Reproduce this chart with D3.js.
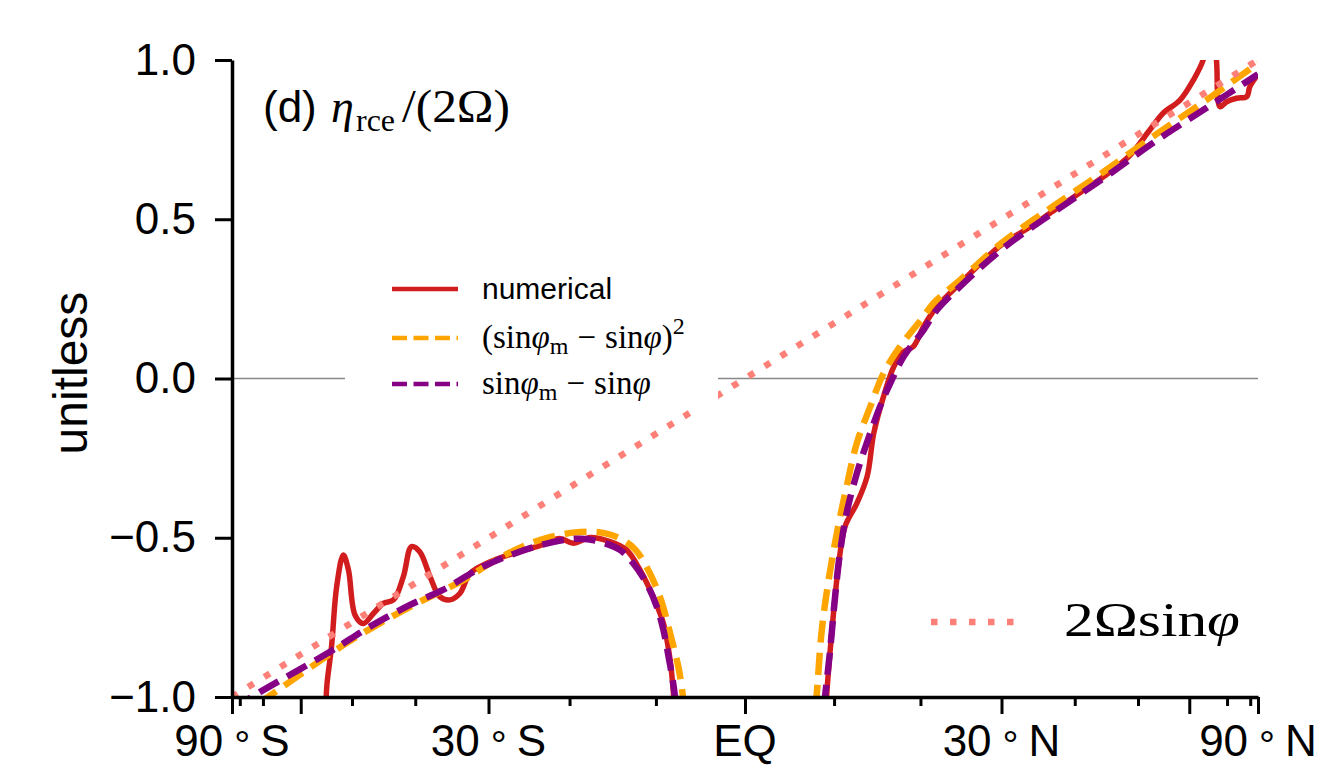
<!DOCTYPE html>
<html>
<head>
<meta charset="utf-8">
<script src="https://cdn.jsdelivr.net/npm/d3@7"></script>
<style>
  html, body { margin: 0; padding: 0; background: #fff; }
  svg { display: block; }
</style>
</head>
<body>
<svg id="chart" width="1320" height="767"></svg>
<script>
// ---------------- data (x = sin(latitude), y = unitless) ----------------
const yTicks = [-1.0, -0.5, 0.0, 0.5, 1.0];
const xMajorLat = [-90, -60, -30, 0, 30, 60, 90];
const xMinorLat = [-80, -70, -50, -40, -20, -10, 10, 20, 40, 50, 70, 80];
const xLabelLat = [-90, -30, 0, 30, 90];
const xLabelNum = ["90", "30", "EQ", "30", "90"];
const xLabelHemi = ["S", "S", "", "N", "N"];

const legendLabels = ["numerical", "(sinφm − sinφ)²", "sinφm − sinφ", "2Ωsinφ"];

const planetary = [[-1.0, -1.0], [1.0, 1.0]];

const numericalSouth = [[-0.817,-1.03],[-0.815,-0.962],[-0.806,-0.842],[-0.796,-0.654],[-0.783,-0.554],
  [-0.773,-0.601],[-0.760,-0.743],[-0.744,-0.769],[-0.724,-0.737],[-0.705,-0.706],[-0.685,-0.695],
  [-0.666,-0.622],[-0.650,-0.528],[-0.634,-0.544],[-0.614,-0.622],[-0.595,-0.685],[-0.575,-0.695],
  [-0.556,-0.675],[-0.536,-0.612],[-0.503,-0.580],[-0.450,-0.548],[-0.400,-0.525],[-0.361,-0.502],
  [-0.335,-0.517],[-0.302,-0.499],[-0.263,-0.512],[-0.231,-0.538],[-0.205,-0.600],[-0.185,-0.664],
  [-0.159,-0.769],[-0.146,-0.884],[-0.140,-0.978],[-0.138,-1.03]];
const numericalNorth = [[0.158,-1.03],[0.159,-0.999],[0.169,-0.800],[0.182,-0.591],[0.195,-0.465],
  [0.218,-0.392],[0.238,-0.308],[0.251,-0.172],[0.270,-0.057],[0.290,0.037],[0.309,0.084],[0.328,0.100],
  [0.348,0.163],[0.374,0.225],[0.420,0.300],[0.500,0.420],[0.550,0.470],[0.600,0.525],[0.650,0.580],
  [0.700,0.635],[0.750,0.700],[0.789,0.780],[0.815,0.833],[0.848,0.874],[0.874,0.937],[0.893,1.000],
  [0.902,1.080],[0.912,1.080],[0.919,1.000],[0.926,0.853],[0.939,0.869],[0.958,0.880],[0.978,0.885],
  [0.984,0.916],[0.997,0.948]];

const squaredSouth = [[-1.0,-1.078],[-0.919,-0.988],[-0.783,-0.837],[-0.712,-0.769],[-0.640,-0.706],
  [-0.549,-0.633],[-0.497,-0.580],[-0.450,-0.540],[-0.400,-0.507],[-0.335,-0.484],[-0.302,-0.481],
  [-0.270,-0.487],[-0.244,-0.502],[-0.215,-0.535],[-0.192,-0.591],[-0.166,-0.685],[-0.146,-0.800],
  [-0.130,-0.905],[-0.123,-0.973],[-0.119,-1.03]];
const squaredNorth = [[0.137,-1.03],[0.140,-0.988],[0.149,-0.800],[0.162,-0.643],[0.179,-0.486],
  [0.198,-0.340],[0.218,-0.203],[0.244,-0.089],[0.270,0.016],[0.302,0.100],[0.348,0.194],[0.367,0.236],
  [0.420,0.310],[0.500,0.425],[0.600,0.540],[0.700,0.650],[0.800,0.765],[0.900,0.875],[1.000,0.990]];

const linearSouth = [[-1.0,-1.037],[-0.945,-0.984],[-0.809,-0.858],[-0.731,-0.779],[-0.653,-0.711],
  [-0.589,-0.664],[-0.511,-0.591],[-0.450,-0.550],[-0.400,-0.524],[-0.354,-0.507],[-0.322,-0.503],
  [-0.289,-0.510],[-0.244,-0.538],[-0.218,-0.580],[-0.192,-0.643],[-0.172,-0.716],[-0.159,-0.790],
  [-0.149,-0.873],[-0.140,-0.957],[-0.134,-1.03]];
const linearNorth = [[0.154,-1.03],[0.156,-0.999],[0.166,-0.852],[0.175,-0.695],[0.185,-0.549],
  [0.198,-0.423],[0.218,-0.298],[0.244,-0.172],[0.263,-0.089],[0.283,-0.015],[0.309,0.068],[0.348,0.152],
  [0.374,0.215],[0.420,0.290],[0.500,0.405],[0.600,0.520],[0.700,0.630],[0.800,0.745],[0.900,0.850],
  [1.000,0.955]];

// ---------------- colours ----------------
const cRed = "#d21d1f", cOrange = "#ffa500", cPurple = "#850085", cPink = "#fd8078";

// ---------------- layout ----------------
const svg = d3.select("#chart");
const pLeft = 232, pRight = 1258, pTop = 60, pBottom = 697;
const x = d3.scaleLinear().domain([-1, 1]).range([pLeft, pRight]);
const y = d3.scaleLinear().domain([-1, 1]).range([pBottom, pTop]);
const sinDeg = d => Math.sin(d * Math.PI / 180);

svg.append("defs").append("clipPath").attr("id", "plotclip")
  .append("rect").attr("x", pLeft).attr("y", pTop).attr("width", pRight - pLeft).attr("height", pBottom - pTop);

const plot = svg.append("g").attr("clip-path", "url(#plotclip)");

// zero line
plot.append("line").attr("x1", x(-1)).attr("x2", x(1)).attr("y1", y(0)).attr("y2", y(0))
  .attr("stroke", "#888").attr("stroke-width", 1.6);

const line = d3.line().x(d => x(d[0])).y(d => y(d[1])).curve(d3.curveCatmullRom.alpha(0.5));

function draw(data, color, width, dash) {
  const p = plot.append("path").datum(data).attr("d", line)
    .attr("fill", "none").attr("stroke", color).attr("stroke-width", width)
    .attr("stroke-linejoin", "round");
  if (dash) p.attr("stroke-dasharray", dash); else p.attr("stroke-linecap", "butt");
}
draw(numericalSouth, cRed, 5.5, null);
draw(numericalNorth, cRed, 5.5, null);
draw(squaredSouth, cOrange, 6.5, "22,10");
draw(squaredNorth, cOrange, 6.5, "22,10");
draw(linearSouth, cPurple, 6.5, "22,10");
draw(linearNorth, cPurple, 6.5, "22,10");
draw(planetary, cPink, 6.5, "6.5,12.5");

// ---------------- axes ----------------
const fontSans = "'Liberation Sans', Arial, Helvetica, sans-serif";
const fontSerif = "'Liberation Serif', 'DejaVu Serif', serif";

const xAxis = svg.append("g").attr("transform", `translate(0,${pBottom})`)
  .call(d3.axisBottom(x).tickValues(xMajorLat.map(sinDeg)).tickSize(17).tickSizeOuter(0).tickFormat(""));
const xMinor = svg.append("g").attr("transform", `translate(0,${pBottom})`)
  .call(d3.axisBottom(x).tickValues(xMinorLat.map(sinDeg)).tickSize(9).tickSizeOuter(0).tickFormat(""));
xMinor.select(".domain").remove();
const yAxis = svg.append("g").attr("transform", `translate(${pLeft},0)`)
  .call(d3.axisLeft(y).tickValues(yTicks).tickSize(17).tickSizeOuter(0).tickPadding(19)
    .tickFormat(d => (d < 0 ? "\u2212" : "") + Math.abs(d).toFixed(1)));

[xAxis, xMinor, yAxis].forEach(g => {
  g.selectAll(".domain").attr("stroke", "#000").attr("stroke-width", 3.5);
  g.selectAll(".tick line").attr("stroke", "#000").attr("stroke-width", 3);
});
yAxis.selectAll("text").attr("font-family", fontSans).attr("font-size", 44).attr("fill", "#000");

// x tick labels
xLabelLat.forEach((lat, i) => {
  const t = svg.append("text").attr("x", x(sinDeg(lat))).attr("y", 756)
    .attr("text-anchor", "middle").attr("font-family", fontSans).attr("font-size", 44).attr("fill", "#000");
  t.append("tspan").text(xLabelNum[i]);
  if (xLabelHemi[i]) {
    t.append("tspan").attr("dx", 11).attr("dy", 3).attr("font-size", 40).text("°");
    t.append("tspan").attr("dx", 10).attr("dy", -3).text(xLabelHemi[i]);
  }
});

// y label
svg.append("text").attr("transform", "translate(87,373) rotate(-90)")
  .attr("text-anchor", "middle").attr("font-family", fontSans).attr("font-size", 48).text("unitless");

// title
svg.append("text").attr("x", 263).attr("y", 122).attr("font-family", fontSans)
  .attr("font-size", 44).attr("fill", "#000").text("(d)");
svg.append("text").attr("x", 331).attr("y", 122).attr("font-family", fontSerif)
  .attr("font-style", "italic").attr("font-size", 46).text("η");
svg.append("text").attr("x", 356).attr("y", 131).attr("font-family", fontSerif)
  .attr("font-size", 32).text("rce");
svg.append("text").attr("x", 402).attr("y", 122).attr("font-family", fontSerif)
  .attr("font-size", 46).attr("textLength", 108).attr("lengthAdjust", "spacingAndGlyphs").text("/(2Ω)");

// ---------------- legend 1 ----------------
svg.append("rect").attr("x", 345).attr("y", 258).attr("width", 373).attr("height", 151).attr("fill", "#fff");
const legRows = [
  {y: 289, color: cRed, dash: null},
  {y: 338, color: cOrange, dash: "15,6.5"},
  {y: 384, color: cPurple, dash: "15,6.5"}
];
legRows.forEach((r, i) => {
  const l = svg.append("line").attr("x1", 392).attr("x2", 458).attr("y1", r.y).attr("y2", r.y)
    .attr("stroke", r.color).attr("stroke-width", 4.5);
  if (r.dash) l.attr("stroke-dasharray", r.dash);
});
svg.append("text").attr("x", 482).attr("y", 299).attr("font-family", fontSans).attr("font-size", 30)
  .text(legendLabels[0]);

function mathLabel(xp, yp, squared) {
  const t = svg.append("text").attr("x", xp).attr("y", yp).attr("font-family", fontSerif).attr("font-size", 33);
  if (squared) t.append("tspan").text("(");
  t.append("tspan").text("sin");
  t.append("tspan").attr("font-style", "italic").text("φ");
  t.append("tspan").attr("font-size", 24).attr("dy", 6).text("m");
  t.append("tspan").attr("dy", -6).attr("dx", 9).text("\u2212");
  t.append("tspan").attr("dx", 9).text("sin");
  t.append("tspan").attr("font-style", "italic").text("φ");
  if (squared) {
    t.append("tspan").text(")");
    t.append("tspan").attr("font-size", 24).attr("dy", -14).text("2");
  }
  return t;
}
mathLabel(482, 348, true);
mathLabel(482, 394, false);

// ---------------- legend 2 ----------------
svg.append("line").attr("x1", 931).attr("x2", 1026).attr("y1", 622).attr("y2", 622)
  .attr("stroke", cPink).attr("stroke-width", 6.5).attr("stroke-dasharray", "6.5,12.5");
const l2 = svg.append("text").attr("x", 1064).attr("y", 636).attr("font-family", fontSerif).attr("font-size", 48)
  .attr("textLength", 176).attr("lengthAdjust", "spacingAndGlyphs");
l2.append("tspan").text("2Ωsin");
l2.append("tspan").attr("font-style", "italic").text("φ");
</script>
</body>
</html>
